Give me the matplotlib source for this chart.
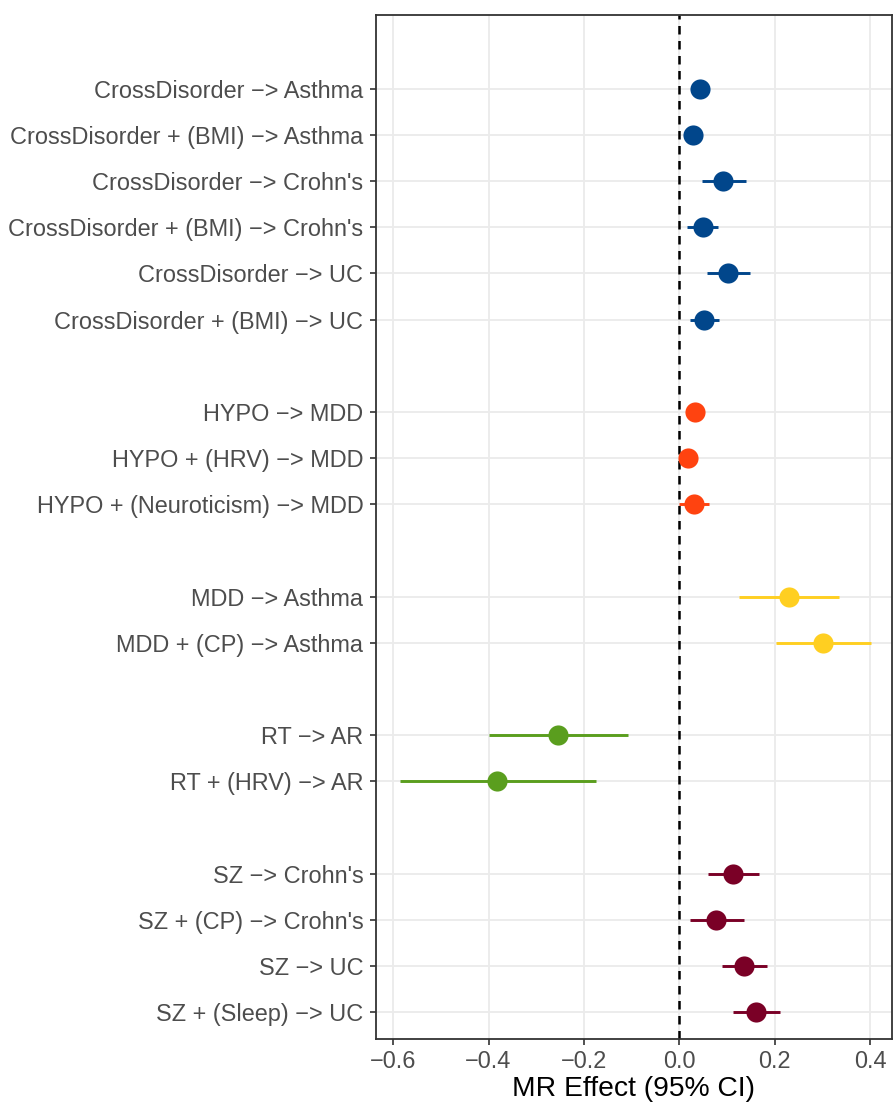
import matplotlib

matplotlib.use("Agg")
import matplotlib.pyplot as plt

plt.rcParams["font.family"] = ["Liberation Sans", "DejaVu Sans"]

# exposures / outcomes, top to bottom, grouped by exposure
labels = [
    "CrossDisorder \u2212> Asthma",
    "CrossDisorder + (BMI) \u2212> Asthma",
    "CrossDisorder \u2212> Crohn's",
    "CrossDisorder + (BMI) \u2212> Crohn's",
    "CrossDisorder \u2212> UC",
    "CrossDisorder + (BMI) \u2212> UC",
    "HYPO \u2212> MDD",
    "HYPO + (HRV) \u2212> MDD",
    "HYPO + (Neuroticism) \u2212> MDD",
    "MDD \u2212> Asthma",
    "MDD + (CP) \u2212> Asthma",
    "RT \u2212> AR",
    "RT + (HRV) \u2212> AR",
    "SZ \u2212> Crohn's",
    "SZ + (CP) \u2212> Crohn's",
    "SZ \u2212> UC",
    "SZ + (Sleep) \u2212> UC",
]
group = [0, 0, 0, 0, 0, 0, 1, 1, 1, 2, 2, 3, 3, 4, 4, 4, 4]
beta = [0.043, 0.028, 0.092, 0.049, 0.103, 0.052,
        0.034, 0.019, 0.031,
        0.230, 0.302,
        -0.254, -0.382,
        0.113, 0.078, 0.136, 0.161]
lo = [0.030, 0.016, 0.047, 0.017, 0.059, 0.022,
      0.022, 0.002, 0.000,
      0.126, 0.203,
      -0.398, -0.586,
      0.061, 0.022, 0.090, 0.112]
hi = [0.056, 0.040, 0.139, 0.082, 0.149, 0.084,
      0.046, 0.036, 0.062,
      0.334, 0.403,
      -0.108, -0.175,
      0.168, 0.136, 0.183, 0.211]
group_colors = ["#01468B", "#FF4310", "#FFCF21", "#5A9E1E", "#7A0026"]

# row positions: one blank row between groups
ypos = []
row = 0
for i, g in enumerate(group):
    if i > 0:
        row += 2 if g != group[i - 1] else 1
    ypos.append(row)
nrow = ypos[-1]
ypos = [nrow - y for y in ypos]

fig = plt.figure(figsize=(8.96, 11.07), dpi=100)
ax = fig.add_axes([0.4196, 0.0614, 0.5759, 0.9253])

ax.axvline(0, color="black", ls=(0, (3.4, 2.6)), lw=1.8, zorder=2)
for y, b, l, h, g in zip(ypos, beta, lo, hi, group):
    c = group_colors[g]
    ax.plot([l, h], [y, y], color=c, lw=2.1, solid_capstyle="butt", zorder=3)
    ax.plot(b, y, "o", color=c, ms=14.5, mec="none", zorder=4)

ax.set_xlim(-0.636, 0.446)
ax.set_ylim(-0.58, nrow + 1.6)
ax.set_xticks([-0.6, -0.4, -0.2, 0.0, 0.2, 0.4])
ax.set_xticklabels(["\u22120.6", "\u22120.4", "\u22120.2", "0.0", "0.2", "0.4"])
ax.set_yticks(ypos)
ax.set_yticklabels(labels)
ax.grid(True, color="#EBEBEB", lw=1.3, zorder=0)
ax.set_axisbelow(True)
for s in ax.spines.values():
    s.set_color("#333333")
    s.set_linewidth(1.3)
ax.tick_params(axis="both", colors="#333333", length=4, width=1.2,
               labelcolor="#4D4D4D", labelsize=16.9)
ax.tick_params(axis="y", pad=5)
ax.tick_params(axis="x", pad=4)
ax.set_xlabel("MR Effect (95% CI)", fontsize=20.3, color="black", labelpad=2)

fig.savefig("out.png", dpi=100)
